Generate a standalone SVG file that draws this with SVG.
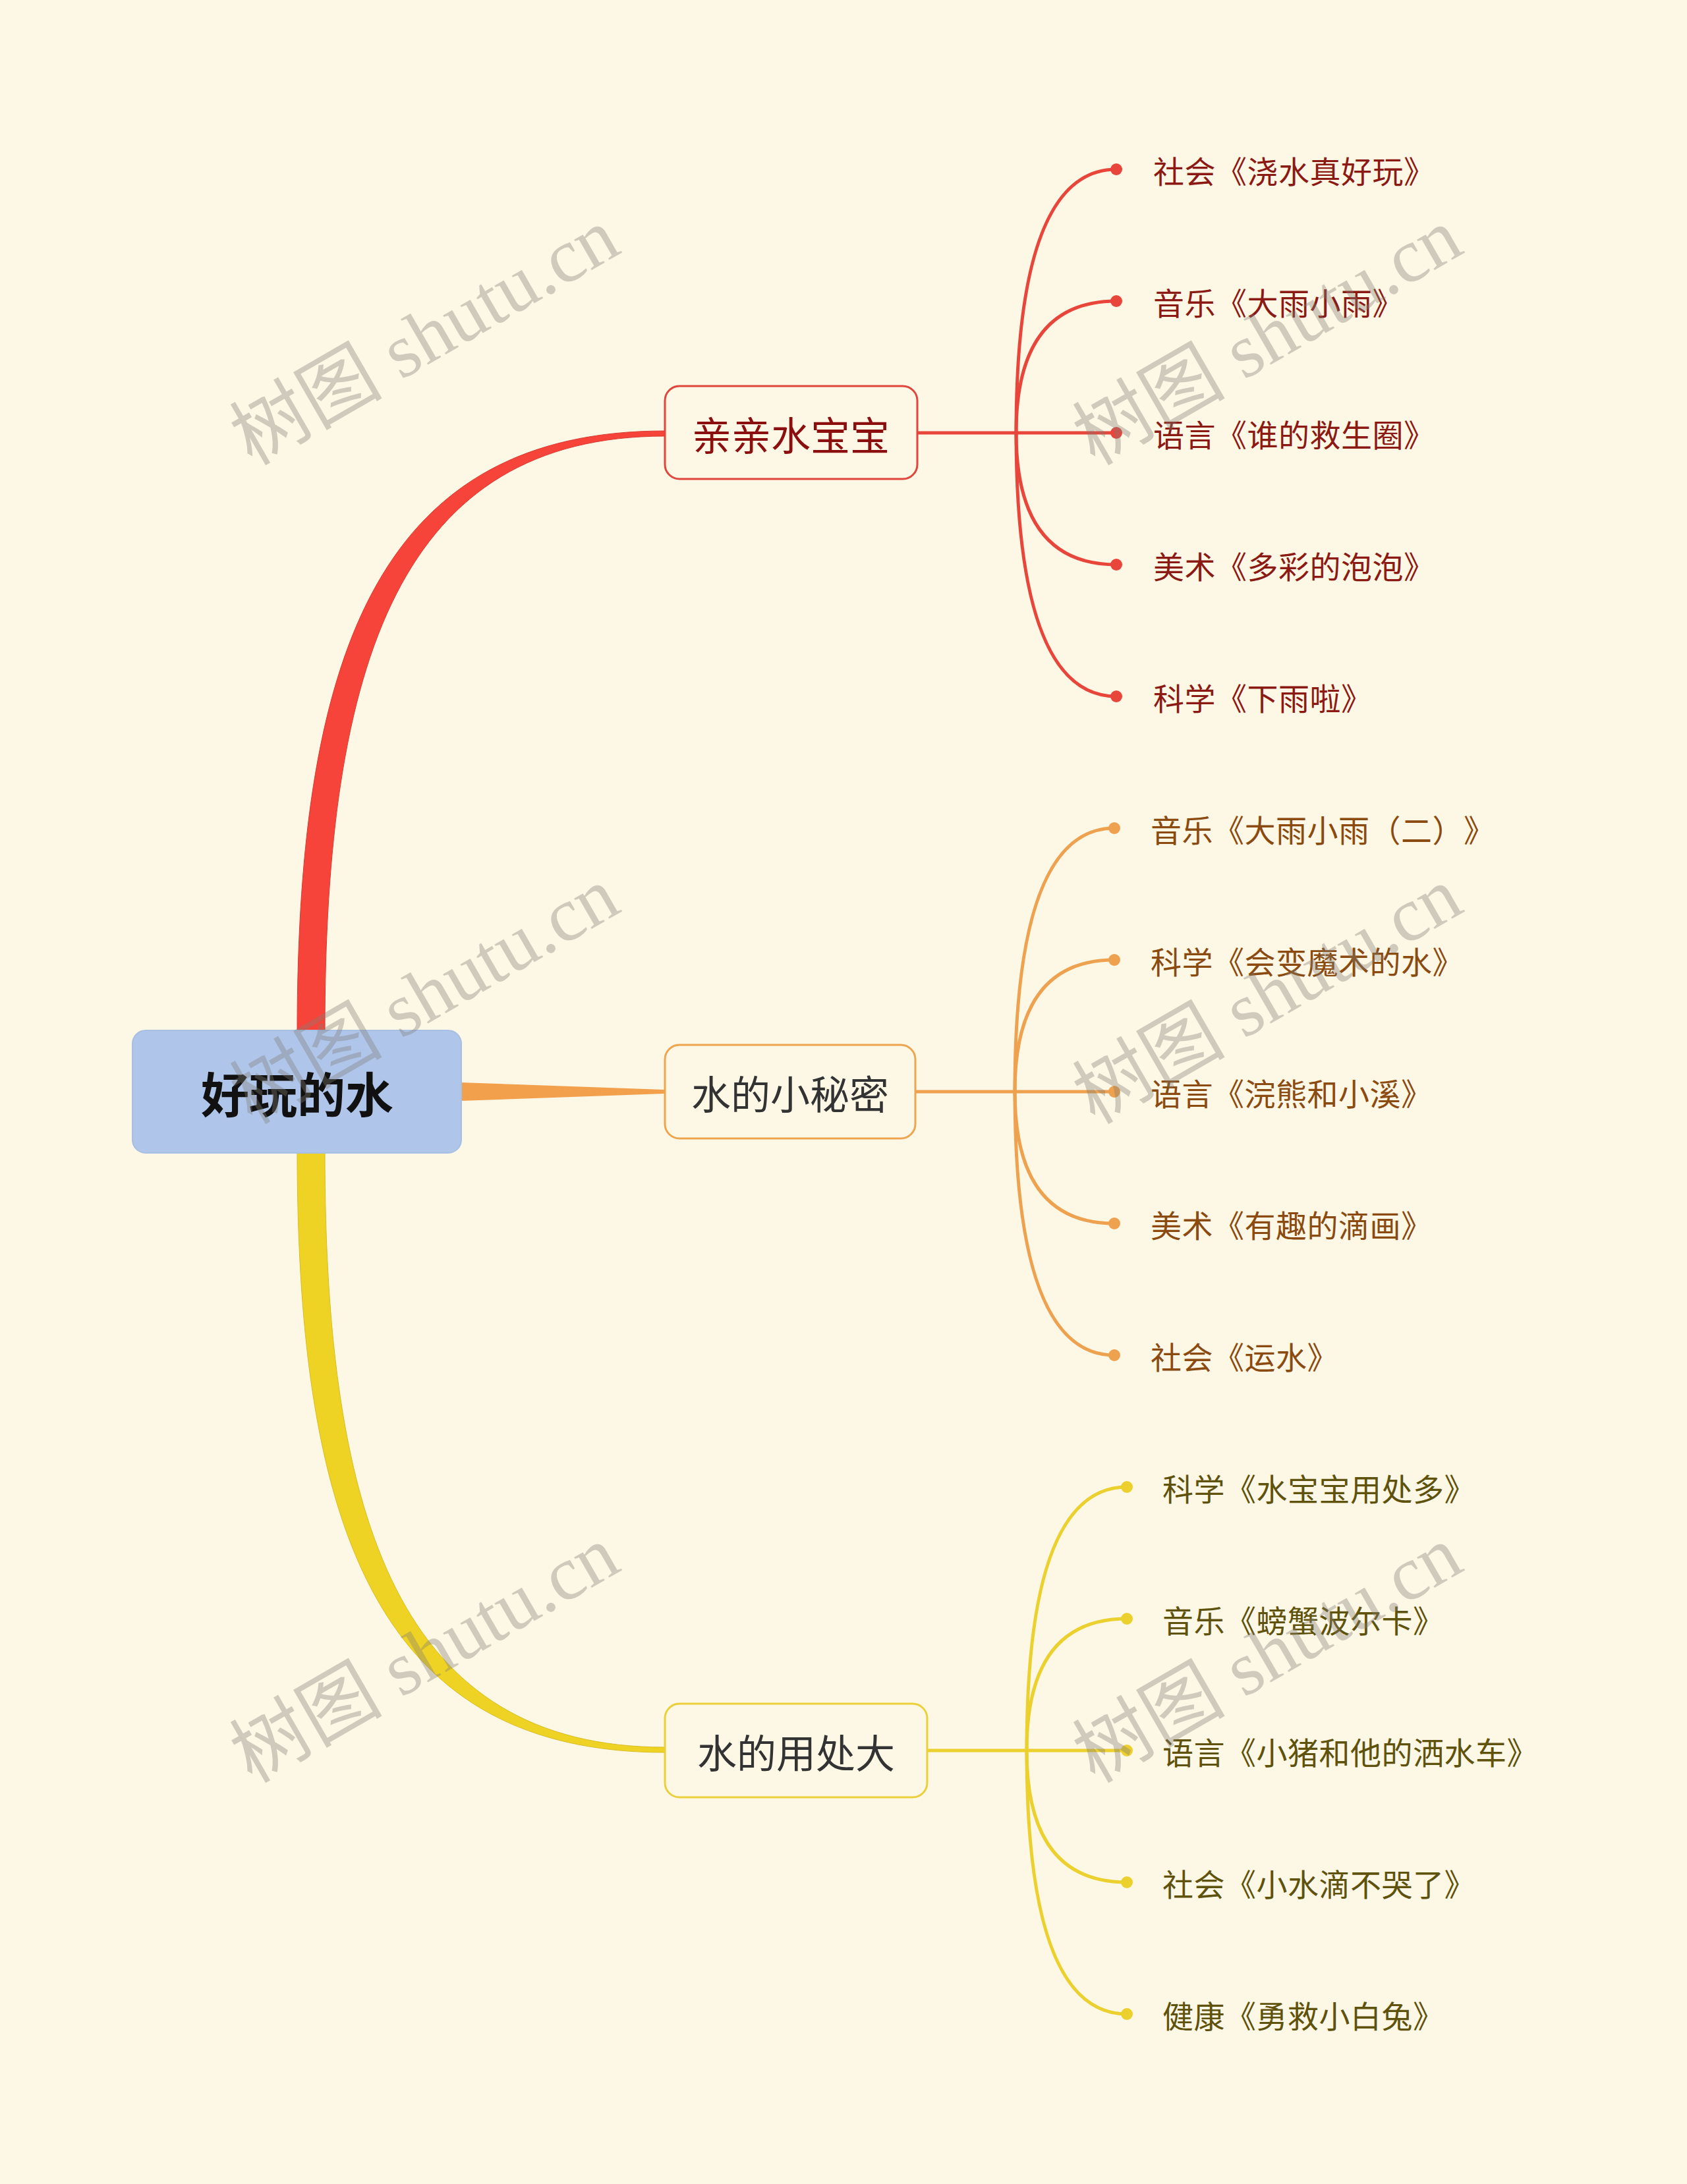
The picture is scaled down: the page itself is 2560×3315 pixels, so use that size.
<svg xmlns="http://www.w3.org/2000/svg" width="2560" height="3315" viewBox="0 0 2560 3315">
<style>
.bg{fill:#fdf7e5}
.leaf{font-family:"Noto Sans CJK SC","Noto Sans",sans-serif;font-size:47px;dominant-baseline:central}
.ntext{font-family:"Noto Sans CJK SC","Noto Sans",sans-serif;font-size:60px;text-anchor:middle;dominant-baseline:central}
.red{stroke:#e8453b;stroke-width:5;fill:none}
.ora{stroke:#eea14e;stroke-width:5;fill:none}
.yel{stroke:#ebd02e;stroke-width:5;fill:none}
.wm{font-family:"Liberation Serif","Noto Sans CJK SC",serif;font-size:116px;fill:#7f7d75;fill-opacity:0.37;text-anchor:middle}
</style>
<rect class="bg" x="0" y="0" width="2560" height="3315"/>
<g id="connectors">
  <path d="M451,1566 C451,975 585,654 1009,654 L1009,662 C610,662 493,1000 493,1566 Z" fill="#f7443a" stroke="#d83a30" stroke-width="1"/>
  <path d="M451,1748 C451,2339 585,2660 1009,2660 L1009,2652 C610,2652 493,2314 493,1748 Z" fill="#efd324" stroke="#d9bd20" stroke-width="1"/>
  <path d="M698,1643 L1008,1654 L1008,1660 L698,1671 Z" fill="#f2a04c"/>
  <g class="red">
    <path d="M1393,657 L1694,657"/>
    <path d="M1542,657 Q1542,257 1694,257"/>
    <path d="M1542,657 Q1542,457 1694,457"/>
    <path d="M1542,657 Q1542,857 1694,857"/>
    <path d="M1542,657 Q1542,1057 1694,1057"/>
  </g>
  <g fill="#e8453b">
    <circle cx="1694" cy="257" r="9"/><circle cx="1694" cy="457" r="9"/><circle cx="1694" cy="657" r="9"/><circle cx="1694" cy="857" r="9"/><circle cx="1694" cy="1057" r="9"/>
  </g>
  <g class="ora">
    <path d="M1389,1657 L1691,1657"/>
    <path d="M1540,1657 Q1540,1257 1691,1257"/>
    <path d="M1540,1657 Q1540,1457 1691,1457"/>
    <path d="M1540,1657 Q1540,1857 1691,1857"/>
    <path d="M1540,1657 Q1540,2057 1691,2057"/>
  </g>
  <g fill="#eea14e">
    <circle cx="1691" cy="1257" r="9"/><circle cx="1691" cy="1457" r="9"/><circle cx="1691" cy="1657" r="9"/><circle cx="1691" cy="1857" r="9"/><circle cx="1691" cy="2057" r="9"/>
  </g>
  <g class="yel">
    <path d="M1408,2657 L1710,2657"/>
    <path d="M1558,2657 Q1558,2257 1710,2257"/>
    <path d="M1558,2657 Q1558,2457 1710,2457"/>
    <path d="M1558,2657 Q1558,2857 1710,2857"/>
    <path d="M1558,2657 Q1558,3057 1710,3057"/>
  </g>
  <g fill="#ebd02e">
    <circle cx="1710" cy="2257" r="9"/><circle cx="1710" cy="2457" r="9"/><circle cx="1710" cy="2657" r="9"/><circle cx="1710" cy="2857" r="9"/><circle cx="1710" cy="3057" r="9"/>
  </g>
</g>
<g id="root">
  <rect x="201" y="1564" width="499" height="186" rx="20" fill="#afc5ea" stroke="#a8bfe4" stroke-width="2"/>
  <text x="451" y="1657" font-family="'Noto Sans CJK SC','Noto Sans',sans-serif" font-size="73" font-weight="bold" fill="#111" text-anchor="middle" dominant-baseline="central">好玩的水</text>
</g>
<g id="n1">
  <rect x="1009" y="586" width="383" height="141" rx="22" fill="#fdf7e5" stroke="#e0463c" stroke-width="3"/>
  <text class="ntext" x="1200" y="657" fill="#8b0f0f">亲亲水宝宝</text>
</g>
<g id="n2">
  <rect x="1009" y="1586" width="380" height="142" rx="22" fill="#fdf7e5" stroke="#eda550" stroke-width="3"/>
  <text class="ntext" x="1199" y="1657" fill="#333">水的小秘密</text>
</g>
<g id="n3">
  <rect x="1009" y="2586" width="398" height="142" rx="22" fill="#fdf7e5" stroke="#ebd03a" stroke-width="3"/>
  <text class="ntext" x="1208" y="2657" fill="#333">水的用处大</text>
</g>
<g id="leaves-red" fill="#8c1a14">
  <g id="l1"><text class="leaf" x="1750 1797.5 1845 1892.5 1940 1987.5 2035 2082.5 2130" y="257">社会《浇水真好玩》</text></g>
  <g id="l2"><text class="leaf" x="1750 1797.5 1845 1892.5 1940 1987.5 2035 2082.5" y="457">音乐《大雨小雨》</text></g>
  <g id="l3"><text class="leaf" x="1750 1797.5 1845 1892.5 1940 1987.5 2035 2082.5 2130" y="657">语言《谁的救生圈》</text></g>
  <g id="l4"><text class="leaf" x="1750 1797.5 1845 1892.5 1940 1987.5 2035 2082.5 2130" y="857">美术《多彩的泡泡》</text></g>
  <g id="l5"><text class="leaf" x="1750 1797.5 1845 1892.5 1940 1987.5 2035" y="1057">科学《下雨啦》</text></g>
</g>
<g id="leaves-orange" fill="#8a4a10">
  <g id="l6"><text class="leaf" x="1746 1793.5 1841 1888.5 1936 1983.5 2031 2078.5 2126 2173.5 2221" y="1257">音乐《大雨小雨（二）》</text></g>
  <g id="l7"><text class="leaf" x="1746 1793.5 1841 1888.5 1936 1983.5 2031 2078.5 2126 2173.5" y="1457">科学《会变魔术的水》</text></g>
  <g id="l8"><text class="leaf" x="1746 1793.5 1841 1888.5 1936 1983.5 2031 2078.5 2126" y="1657">语言《浣熊和小溪》</text></g>
  <g id="l9"><text class="leaf" x="1746 1793.5 1841 1888.5 1936 1983.5 2031 2078.5 2126" y="1857">美术《有趣的滴画》</text></g>
  <g id="l10"><text class="leaf" x="1746 1793.5 1841 1888.5 1936 1983.5" y="2057">社会《运水》</text></g>
</g>
<g id="leaves-yellow" fill="#5f520c">
  <g id="l11"><text class="leaf" x="1764 1811.5 1859 1906.5 1954 2001.5 2049 2096.5 2144 2191.5" y="2257">科学《水宝宝用处多》</text></g>
  <g id="l12"><text class="leaf" x="1764 1811.5 1859 1906.5 1954 2001.5 2049 2096.5 2144" y="2457">音乐《螃蟹波尔卡》</text></g>
  <g id="l13"><text class="leaf" x="1764 1811.5 1859 1906.5 1954 2001.5 2049 2096.5 2144 2191.5 2239 2286.5" y="2657">语言《小猪和他的洒水车》</text></g>
  <g id="l14"><text class="leaf" x="1764 1811.5 1859 1906.5 1954 2001.5 2049 2096.5 2144 2191.5" y="2857">社会《小水滴不哭了》</text></g>
  <g id="l15"><text class="leaf" x="1764 1811.5 1859 1906.5 1954 2001.5 2049 2096.5 2144" y="3057">健康《勇救小白兔》</text></g>
</g>
<g id="watermarks">
  <text class="wm" transform="translate(664,545) rotate(-30)">树图 shutu.cn</text>
  <text class="wm" transform="translate(1943,545) rotate(-30)">树图 shutu.cn</text>
  <text class="wm" transform="translate(664,1545) rotate(-30)">树图 shutu.cn</text>
  <text class="wm" transform="translate(1943,1545) rotate(-30)">树图 shutu.cn</text>
  <text class="wm" transform="translate(664,2545) rotate(-30)">树图 shutu.cn</text>
  <text class="wm" transform="translate(1943,2545) rotate(-30)">树图 shutu.cn</text>
</g>
</svg>
